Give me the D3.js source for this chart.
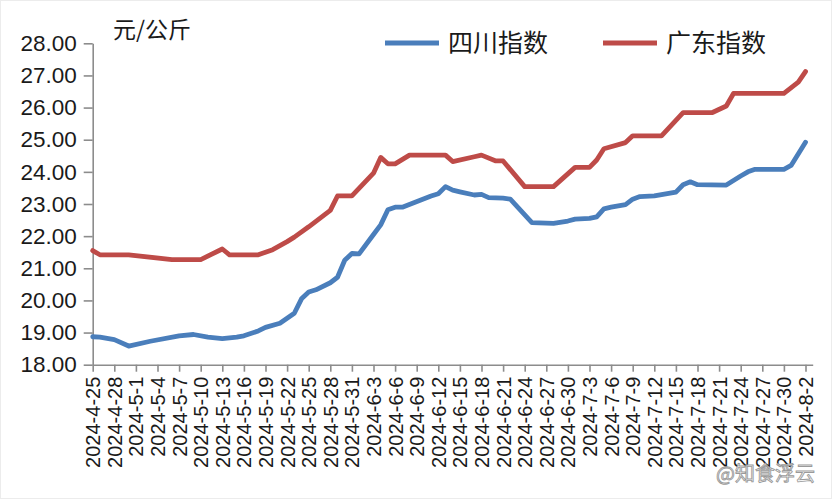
<!DOCTYPE html>
<html>
<head>
<meta charset="utf-8">
<script src="https://cdn.jsdelivr.net/npm/d3@7"></script>
<style>
  body { margin: 0; background: #fff; }
  svg { display: block; }
</style>
</head>
<body>
<svg id="chart" width="833" height="500"></svg>
<script>
// 四川指数 (blue) breakpoints
let scDates = ["4-25","4-26","4-28","4-30","5-3","5-7","5-9","5-11","5-13","5-15","5-16","5-18","5-19","5-21",
  "5-23","5-24","5-25","5-26","5-28","5-29","5-30","5-31","6-1","6-3","6-4","6-5","6-6","6-7","6-11","6-12",
  "6-13","6-14","6-15","6-17","6-18","6-19","6-21","6-22","6-25","6-28","6-30","7-1","7-3","7-4","7-5","7-6",
  "7-8","7-9","7-10","7-12","7-15","7-16","7-17","7-18","7-22","7-24","7-25","7-26","7-30","7-31","8-2"];
let scValues = [18.87,18.86,18.78,18.58,18.73,18.90,18.94,18.86,18.81,18.86,18.90,19.05,19.16,19.29,
  19.60,20.05,20.26,20.33,20.55,20.72,21.25,21.46,21.45,22.05,22.35,22.82,22.90,22.90,23.25,23.32,
  23.54,23.43,23.38,23.28,23.30,23.20,23.18,23.15,22.42,22.40,22.47,22.53,22.55,22.60,22.85,22.90,
  22.98,23.15,23.23,23.25,23.37,23.60,23.69,23.60,23.59,23.87,24.00,24.08,24.08,24.20,24.92];

// 广东指数 (red) breakpoints
let gdDates = ["4-25","4-26","4-30","5-6","5-10","5-13","5-14","5-18","5-20","5-22","5-23","5-25","5-28",
  "5-29","5-31","6-3","6-4","6-5","6-6","6-8","6-13","6-14","6-17","6-18","6-20","6-21","6-24","6-28",
  "7-1","7-3","7-4","7-5","7-8","7-9","7-13","7-16","7-20","7-22","7-23","7-30","8-1","8-2"];
let gdValues = [21.55,21.42,21.42,21.27,21.27,21.60,21.42,21.42,21.58,21.83,21.97,22.29,22.80,
  23.25,23.25,23.96,24.45,24.25,24.25,24.52,24.52,24.32,24.47,24.52,24.34,24.34,23.54,23.54,
  24.14,24.14,24.37,24.72,24.91,25.12,25.12,25.84,25.84,26.05,26.44,26.44,26.79,27.12];

let yTicks = [18, 19, 20, 21, 22, 23, 24, 25, 26, 27, 28];
let seriesNames = ["四川指数", "广东指数"];
let seriesColors = ["#4a7ebb", "#be4b48"];
let unitLabel = "元/公斤";
let watermark = "@知食浮云";

// "4-25" -> Date in 2024
function toDate(s) {
  let p = s.split("-");
  return new Date(2024, +p[0] - 1, +p[1]);
}

let scData = scDates.map((d, i) => ({ date: toDate(d), value: scValues[i] }));
let gdData = gdDates.map((d, i) => ({ date: toDate(d), value: gdValues[i] }));

// x tick every 3 days from 4-25 to 8-2
let xTicks = d3.timeDay.range(toDate("4-25"), toDate("8-3"), 3);

let svg = d3.select("#chart");

svg.append("rect")
  .attr("x", 0.5).attr("y", 0.5)
  .attr("width", 831).attr("height", 498)
  .attr("fill", "#fff")
  .attr("stroke", "#ececec");

let x = d3.scaleTime()
  .domain([toDate("4-25"), toDate("8-3")])
  .range([92.7, 812.7]);

let y = d3.scaleLinear()
  .domain([18, 28])
  .range([364.7, 43.3]);

// Y axis
let yAxis = svg.append("g")
  .attr("transform", "translate(92.7,0)")
  .call(d3.axisLeft(y).tickValues(yTicks).tickFormat(d3.format(".2f")).tickSize(9).tickSizeOuter(0).tickPadding(7));

yAxis.selectAll("path, line").attr("stroke", "#8c8c8c").attr("stroke-width", 1.6);
yAxis.selectAll("text")
  .attr("font-family", "'Liberation Sans', Arial, sans-serif")
  .attr("font-size", 22.5)
  .attr("fill", "#1a1a1a");

// X axis
let xAxis = svg.append("g")
  .attr("transform", "translate(0,364.7)")
  .call(d3.axisBottom(x).tickValues(xTicks).tickFormat(d3.timeFormat("%Y-%-m-%-d")).tickSize(7).tickSizeOuter(0));

xAxis.selectAll("path, line").attr("stroke", "#8c8c8c").attr("stroke-width", 1.6);
xAxis.selectAll("text")
  .attr("font-family", "'Liberation Sans', Arial, sans-serif")
  .attr("font-size", 20)
  .attr("fill", "#1a1a1a")
  .attr("text-anchor", "end")
  .attr("dy", "0.35em")
  .attr("transform", "translate(0,12) rotate(-90)")
  .attr("x", 0)
  .attr("y", 0);

// Lines
let line = d3.line()
  .x((d) => x(d.date))
  .y((d) => y(d.value));

[scData, gdData].forEach((data, i) => {
  svg.append("path")
    .datum(data)
    .attr("fill", "none")
    .attr("stroke", seriesColors[i])
    .attr("stroke-width", 4.8)
    .attr("stroke-linejoin", "round")
    .attr("stroke-linecap", "round")
    .attr("d", line);
});

// Unit label
svg.append("text")
  .attr("x", 113)
  .attr("y", 38)
  .attr("font-family", "'Noto Sans CJK SC', sans-serif")
  .attr("font-size", 23)
  .attr("fill", "#1a1a1a")
  .text(unitLabel);

// Legend
let legendX = [385, 603];
seriesNames.forEach((name, i) => {
  let g = svg.append("g").attr("transform", "translate(" + legendX[i] + ",43)");
  g.append("line")
    .attr("x1", 0).attr("x2", 54)
    .attr("stroke", seriesColors[i])
    .attr("stroke-width", 5);
  g.append("text")
    .attr("x", 63)
    .attr("y", 0)
    .attr("dy", "0.36em")
    .attr("font-family", "'Noto Sans CJK SC', sans-serif")
    .attr("font-size", 25)
    .attr("fill", "#1a1a1a")
    .text(name);
});

// Watermark
svg.append("text")
  .attr("x", 815)
  .attr("y", 481)
  .attr("text-anchor", "end")
  .attr("font-family", "'Noto Sans CJK SC', sans-serif")
  .attr("font-size", 20)
  .attr("fill", "#ffffff")
  .attr("fill-opacity", 0.85)
  .attr("stroke", "#9a9a9a")
  .attr("stroke-width", 0.9)
  .text(watermark);
</script>
</body>
</html>
